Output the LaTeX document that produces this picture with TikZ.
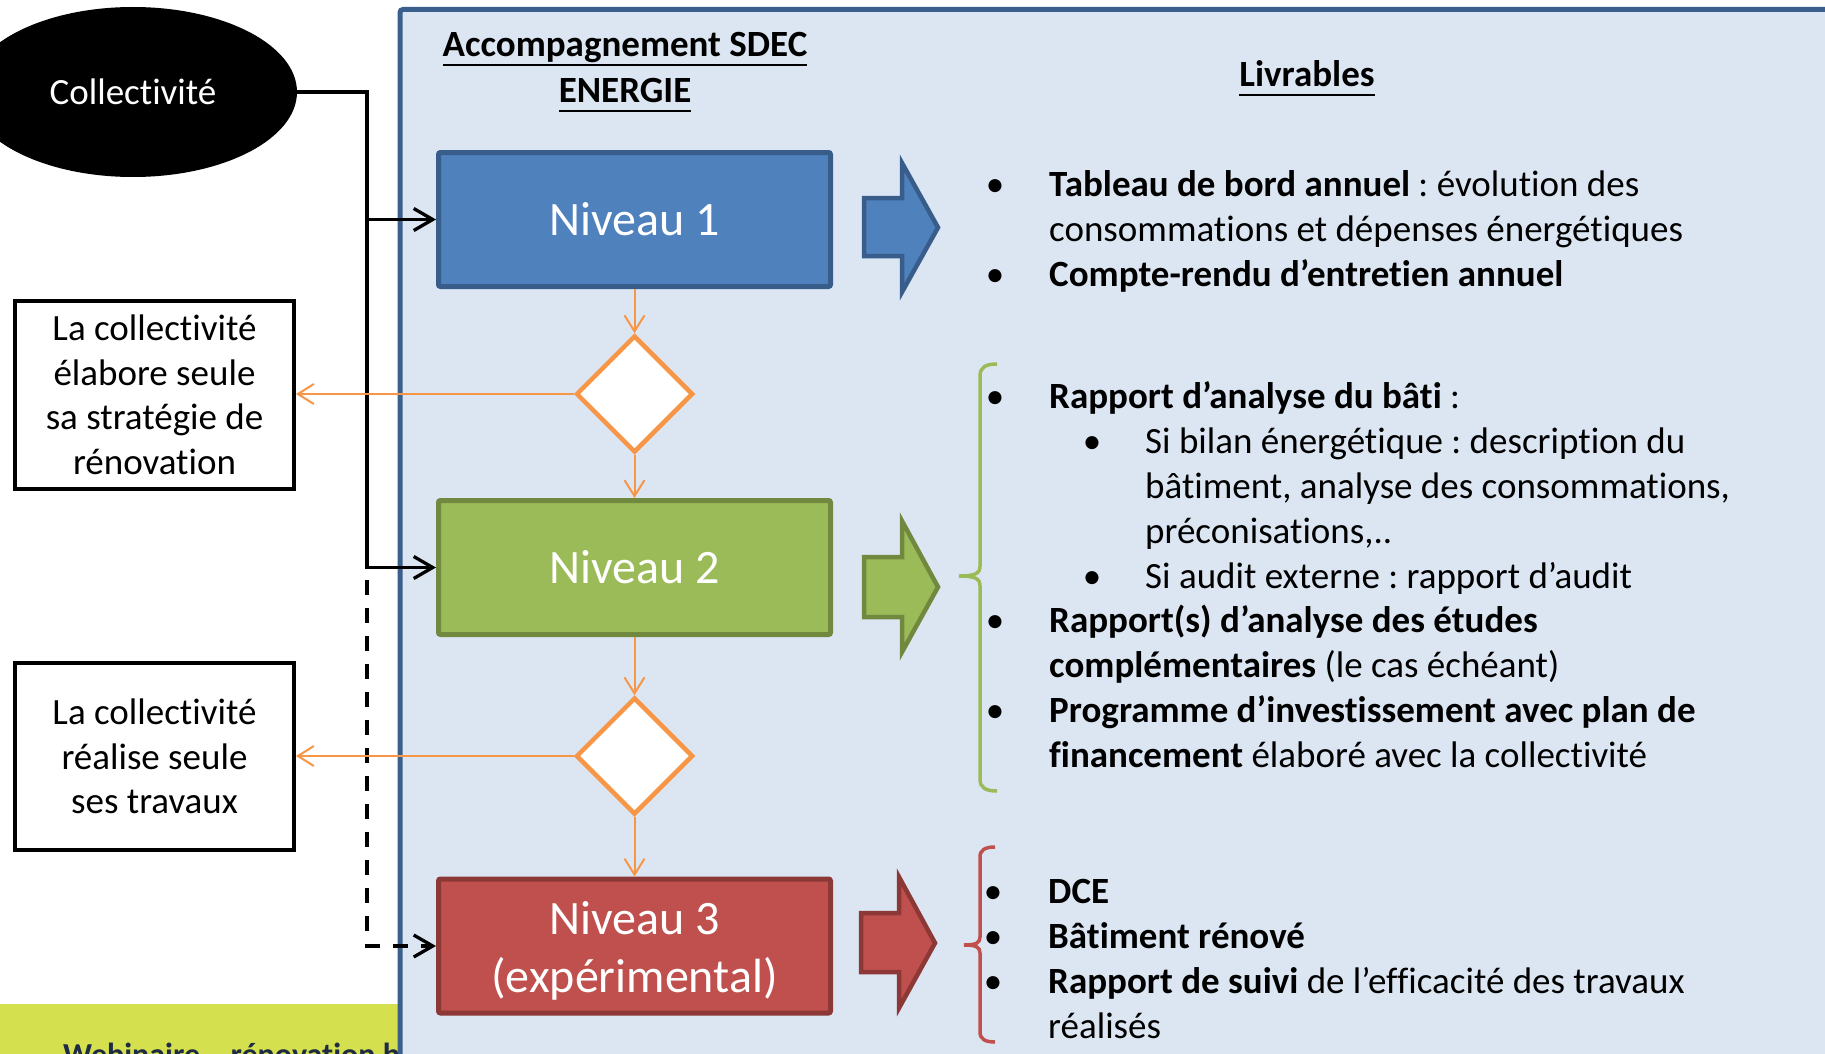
\documentclass[tikz,border=0pt]{standalone}
\usepackage{fontspec}
\setmainfont{Carlito}[Ligatures=NoCommon]
\frenchspacing
\usetikzlibrary{shapes.geometric,arrows.meta}
\definecolor{panelfill}{HTML}{DCE6F2}
\definecolor{panelline}{HTML}{3B5F8C}
\definecolor{nAfill}{HTML}{4F81BD}
\definecolor{nAline}{HTML}{385D8A}
\definecolor{nBfill}{HTML}{9BBB59}
\definecolor{nBline}{HTML}{71893F}
\definecolor{nCfill}{HTML}{C0504D}
\definecolor{nCline}{HTML}{8C3836}
\definecolor{orng}{HTML}{F79646}
\definecolor{band}{HTML}{D4E04D}
\definecolor{webtext}{HTML}{1F2A44}
\newcommand\fsz{\fontsize{37}{44.5}\selectfont\frenchspacing}
\newcommand\hfsz{\fontsize{37}{45}\selectfont\bfseries}
\newcommand\myul[1]{\setbox0\hbox{#1}\rlap{\rule[-9pt]{\wd0}{2.2pt}}\box0}
\tikzset{
  ell/.style={ellipse, fill=black, minimum width=328pt, minimum height=170pt, inner sep=0pt, text=white, font=\fsz},
  lvl/.style={rectangle, rounded corners=2pt, line width=5pt, minimum width=392pt, minimum height=134pt, inner sep=0pt, text=white, font=\fontsize{48}{58}\selectfont, align=center},
  dia/.style={diamond, aspect=1, draw=orng, line width=4.5pt, fill=white, minimum width=117pt, minimum height=117pt, inner sep=0pt},
  lbox/.style={rectangle, draw=black, line width=4pt, fill=white, minimum width=279pt, inner sep=0pt, align=center, font=\fsz},
  blk/.style={draw=black, line width=3.3pt, line join=miter, -{Straight Barb[length=19pt,width=22pt]}},
  dsh/.style={blk, dash pattern=on 15pt off 13pt, dash phase=16pt},
  oarr/.style={draw=orng, line width=2pt, -{Straight Barb[length=16pt,width=20pt]}},
  barrow/.style={line width=4.5pt, line join=miter},
  brk/.style={line width=3.5pt},
  txt/.style={anchor=base west, inner sep=0pt, font=\fsz},
  bul/.style={anchor=base, inner sep=0pt, font=\fsz},
  hd/.style={anchor=base, inner sep=0pt, font=\hfsz}
}
\begin{document}
\begin{tikzpicture}[x=1pt,y=-1pt]
\useasboundingbox (0,0) rectangle (1825,1054);
\clip (0,0) rectangle (1825,1054);
\fill[white] (0,0) rectangle (1825,1054);
% bottom band
\fill[band] (0,1004) rectangle (400,1054);
\node[anchor=base west, inner sep=0pt, font=\fontsize{32}{38}\selectfont\bfseries, text=webtext] (web) at (63,1065) {Webinaire – rénovation b};
% panel
\draw[draw=panelline, fill=panelfill, line width=5pt, rounded corners=3pt] (400,9.5) rectangle (1900,1150);
% headings
\node[hd] (h1) at (625,57) {\myul{Accompagnement SDEC}};
\node[hd] (h2) at (625,103) {\myul{ENERGIE}};
\node[hd] (h3) at (1307,87) {\myul{Livrables}};
% ellipse
\node[ell] (coll) at (133,92) {Collectivité};
% levels
\node[lvl, fill=nAfill, draw=nAline] (n1) at (634.5,219.5) {Niveau 1};
\node[lvl, fill=nBfill, draw=nBline] (n2) at (634.5,567.5) {Niveau 2};
\node[lvl, fill=nCfill, draw=nCline] (n3) at (634.5,946) {};
\node[anchor=base, inner sep=0pt, text=white, font=\fontsize{48}{58}\selectfont] (n3a) at (634.5,934) {Niveau 3};
\node[anchor=base, inner sep=0pt, text=white, font=\fontsize{48}{58}\selectfont] (n3b) at (634.5,992) {(expérimental)};
% diamonds
\node[dia] (d1) at (634.5,394) {};
\node[dia] (d2) at (634.5,756) {};
% left boxes
\node[lbox, minimum height=188pt] (b1) at (154.5,395) {La collectivité\\élabore seule\\sa stratégie de\\rénovation};
\node[lbox, minimum height=187pt] (b2) at (154.5,756.5) {La collectivité\\réalise seule\\ses travaux};
% black connectors
\coordinate (jx) at (367,0);
\draw[blk] (coll.east) -| (jx |- n2.west) -- (n2.west);
\draw[blk] (jx |- n1.west) -- (n1.west);
\draw[dsh] (jx |- n2.west) -- (jx |- n3.west) -- (n3.west);
% orange connectors
\draw[oarr] (n1.south) -- (d1.north);
\draw[oarr] (d1.south) -- (n2.north);
\draw[oarr] (n2.south) -- (d2.north);
\draw[oarr] (d2.south) -- (n3.north);
\draw[oarr] (d1.west) -- (d1.west -| b1.east);
\draw[oarr] (d2.west) -- (d2.west -| b2.east);
% block arrows
\filldraw[barrow, fill=nAfill, draw=nAline] (864,198) -- (902,198) -- (902,163) -- (938,227.5) -- (902,292) -- (902,256) -- (864,256) -- cycle;
\filldraw[barrow, fill=nBfill, draw=nBline] (864,557) -- (902,557) -- (902,521) -- (938,587) -- (902,652) -- (902,617) -- (864,617) -- cycle;
\filldraw[barrow, fill=nCfill, draw=nCline] (861,913) -- (899,913) -- (899,877) -- (935,943) -- (899,1008) -- (899,972) -- (861,972) -- cycle;
% brackets
\draw[brk, draw=nBfill] (997,364) .. controls (986,364) and (980,367) .. (980,376) -- (980,566) .. controls (980,573) and (976,576) .. (959,576) .. controls (976,576) and (980,579) .. (980,586) -- (980,779) .. controls (980,788) and (986,791) .. (997,791);
\draw[brk, draw=nCfill] (995,847) .. controls (985,847) and (980,850) .. (980,857) -- (980,937) .. controls (980,943) and (976,945) .. (964,945) .. controls (976,945) and (980,947) .. (980,953) -- (980,1032) .. controls (980,1039) and (985,1042) .. (995,1042);
% level 1 deliverables
\node[bul] (u1) at (995,196) {•};
\node[txt] (t1) at (1049,196) {\textbf{Tableau de bord annuel} : évolution des};
\node[txt] (t2) at (1049,241) {consommations et dépenses énergétiques};
\node[bul] (u2) at (995,286) {•};
\node[txt] (t3) at (1049,286) {\textbf{Compte-rendu d’entretien annuel}};
% level 2 deliverables
\node[bul] (u3) at (995,408) {•};
\node[txt] (t4) at (1049,408) {\textbf{Rapport d’analyse du bâti} :};
\node[bul] (s1) at (1092,453) {•};
\node[txt] (t5) at (1145,453) {Si bilan énergétique : description du};
\node[txt] (t6) at (1145,498) {bâtiment, analyse des consommations,};
\node[txt] (t7) at (1145,543) {préconisations,..};
\node[bul] (s2) at (1092,588) {•};
\node[txt] (t8) at (1145,588) {Si audit externe : rapport d’audit};
\node[bul] (u4) at (995,632) {•};
\node[txt] (t9) at (1049,632) {\textbf{Rapport(s) d’analyse des études}};
\node[txt] (t10) at (1049,677) {\textbf{complémentaires} (le cas échéant)};
\node[bul] (u5) at (995,722) {•};
\node[txt] (t11) at (1049,722) {\textbf{Programme d’investissement avec plan de}};
\node[txt] (t12) at (1049,767) {\textbf{financement} élaboré avec la collectivité};
% level 3 deliverables
\node[bul] (u6) at (993,903) {•};
\node[txt] (t13) at (1048,903) {\textbf{DCE}};
\node[bul] (u7) at (993,948) {•};
\node[txt] (t14) at (1048,948) {\textbf{Bâtiment rénové}};
\node[bul] (u8) at (993,993) {•};
\node[txt] (t15) at (1048,993) {\textbf{Rapport de suivi} de l’efficacité des travaux};
\node[txt] (t16) at (1048,1038) {réalisés};
\end{tikzpicture}
\end{document}
